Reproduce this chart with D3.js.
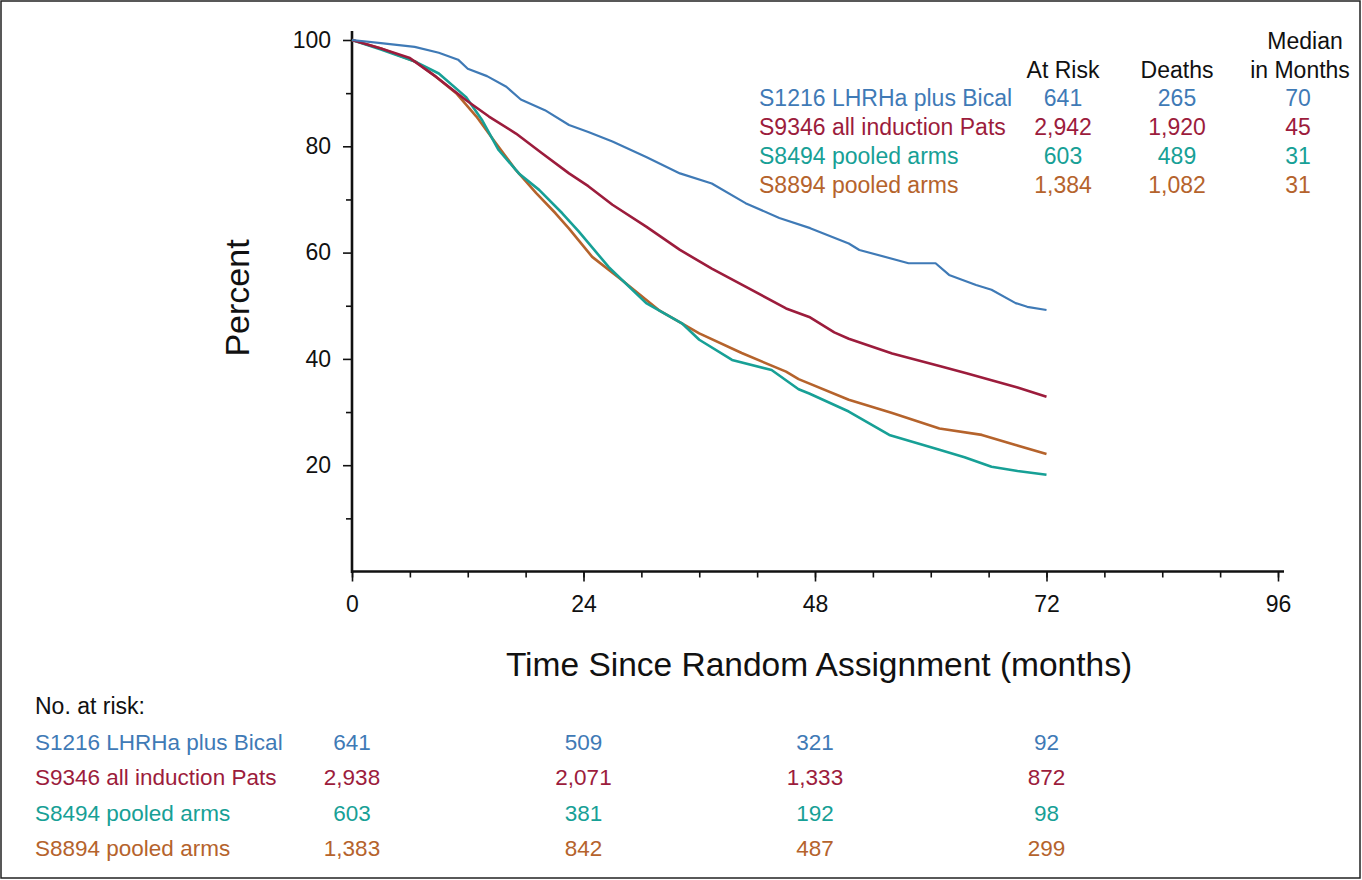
<!DOCTYPE html>
<html>
<head>
<meta charset="utf-8">
<script src="https://cdn.jsdelivr.net/npm/d3@7"></script>
<style>
  body { margin: 0; background: #fff; }
  text { font-family: "Liberation Sans", Arial, sans-serif; }
</style>
</head>
<body>
<script>
// Kurver (måned, procent)
const s1216 = [[0,100],[3,99.4],[6.5,98.7],[9,97.6],[11,96.3],[12,94.6],[14,93.2],[16,91.2],[17.5,88.8],[20,86.8],[22.5,84.0],[24.5,82.7],[27,80.9],[30.5,78.0],[34,74.9],[37.3,73.0],[40.8,69.3],[44.3,66.5],[47.5,64.6],[51.5,61.7],[52.6,60.5],[57.7,58.0],[60.5,58.0],[61.9,55.8],[64.7,53.9],[66.3,53.0],[68.8,50.5],[70,49.8],[72,49.2]];
const s9346 = [[0,100],[3,98.4],[6,96.6],[8.7,93.1],[11.8,88.7],[14.2,85.6],[17,82.4],[19.7,78.7],[22.5,74.9],[24.5,72.5],[27,69.0],[30.5,64.9],[34,60.5],[37.3,57.0],[40.8,53.6],[45,49.5],[47.4,47.9],[50,45.0],[51.5,43.8],[56,41.0],[61,38.6],[63.7,37.3],[66.3,36.0],[69,34.6],[72,32.9]];
const s8494 = [[0,100],[3,98.2],[6.6,95.9],[9,93.7],[11.8,89.3],[13.5,84.9],[15.2,79.3],[17.3,74.9],[19.4,71.8],[21.8,67.4],[23.5,64.0],[26.6,57.3],[30.5,50.5],[34.2,46.7],[36,43.6],[39.4,39.8],[43.5,37.9],[46.3,34.3],[47.4,33.5],[51.5,30.1],[55.7,25.7],[60.9,22.9],[63.5,21.5],[66.3,19.7],[69,18.9],[72,18.2]];
const s8894 = [[0,100],[3,98.4],[6.6,95.9],[8.7,93.1],[10.8,90.0],[12.9,85.6],[14.9,80.6],[17,75.5],[19.1,71.2],[21.1,67.4],[22.5,64.5],[24.9,59.2],[28,54.8],[31.8,49.2],[36,44.8],[40.4,41.1],[45,37.6],[46.3,36.2],[51.5,32.3],[56,29.8],[60.9,26.9],[65.3,25.7],[68.8,23.8],[72,22.1]];

const seriesNames = ["S1216 LHRHa plus Bical", "S9346 all induction Pats", "S8494 pooled arms", "S8894 pooled arms"];
const colors = ["#3f7ab6", "#9c1c3c", "#17a096", "#b5632c"];
const atRisk = ["641", "2,942", "603", "1,384"];
const deaths = ["265", "1,920", "489", "1,082"];
const medians = ["70", "45", "31", "31"];

const riskMonths = [0, 24, 48, 72];
const riskTable = [
  ["641", "509", "321", "92"],
  ["2,938", "2,071", "1,333", "872"],
  ["603", "381", "192", "98"],
  ["1,383", "842", "487", "299"]
];

const xTicks = [0, 24, 48, 72, 96];
const yTicks = [20, 40, 60, 80, 100];

const w = 1362;
const h = 880;

const svg = d3.select("body").append("svg").attr("width", w).attr("height", h);

// ramme rundt om figuren
svg.append("rect")
  .attr("x", 1).attr("y", 1).attr("width", w - 3).attr("height", h - 3)
  .attr("fill", "none").attr("stroke", "#222").attr("stroke-width", 1.5);

const xScale = d3.scaleLinear().domain([0, 96]).range([352, 1278]);
const yScale = d3.scaleLinear().domain([0, 100]).range([571.5, 40]);

// X-akse: små ticks hver 6. måned, store ved 24
const xMinor = d3.axisBottom(xScale).tickValues(d3.range(0, 97, 6)).tickSize(6).tickFormat("");
const xMajor = d3.axisBottom(xScale).tickValues(xTicks).tickSize(10).tickPadding(14);

const gxMinor = svg.append("g").attr("transform", "translate(0,571.5)").call(xMinor);
const gx = svg.append("g").attr("transform", "translate(0,571.5)").call(xMajor);
[gxMinor, gx].forEach(g => {
  g.select(".domain").remove();
  g.selectAll("line").attr("stroke", "#111").attr("stroke-width", 1.6);
});
gx.selectAll("text").attr("font-size", 23).attr("fill", "#111");

// Y-akse
const yMinor = d3.axisLeft(yScale).tickValues([10, 30, 50, 70, 90]).tickSize(6).tickFormat("");
const yMajor = d3.axisLeft(yScale).tickValues(yTicks).tickSize(9).tickPadding(12);
const gyMinor = svg.append("g").attr("transform", "translate(352,0)").call(yMinor);
const gy = svg.append("g").attr("transform", "translate(352,0)").call(yMajor);
[gyMinor, gy].forEach(g => {
  g.select(".domain").remove();
  g.selectAll("line").attr("stroke", "#111").attr("stroke-width", 1.6);
});
gy.selectAll("text").attr("font-size", 23).attr("fill", "#111");

// aksestreger
svg.append("line").attr("x1", 352).attr("x2", 352).attr("y1", 31).attr("y2", 573)
  .attr("stroke", "#111").attr("stroke-width", 2.6);
svg.append("line").attr("x1", 351).attr("x2", 1284).attr("y1", 571.5).attr("y2", 571.5)
  .attr("stroke", "#111").attr("stroke-width", 2.6);

// kurverne
const line = d3.line().x(d => xScale(d[0])).y(d => yScale(d[1]));
const curves = [s1216, s9346, s8494, s8894];
// tegnes bagfra så den blå ligger øverst
[3, 2, 1, 0].forEach(i => {
  svg.append("path")
    .datum(curves[i])
    .attr("d", line)
    .attr("fill", "none")
    .attr("stroke", colors[i])
    .attr("stroke-width", i === 0 ? 2.2 : 2.6)
    .attr("stroke-linejoin", "round");
});

// aksetitler
svg.append("text")
  .attr("transform", "translate(249,298) rotate(-90)")
  .attr("text-anchor", "middle")
  .attr("font-size", 34)
  .attr("fill", "#111")
  .text("Percent");

svg.append("text")
  .attr("x", 819).attr("y", 676)
  .attr("text-anchor", "middle")
  .attr("font-size", 33.5)
  .attr("fill", "#111")
  .text("Time Since Random Assignment (months)");

// legende øverst til højre
const legHead = [
  { x: 1063, y: 78, t: "At Risk" },
  { x: 1177, y: 78, t: "Deaths" },
  { x: 1305, y: 49, t: "Median" },
  { x: 1300, y: 78, t: "in Months" }
];
svg.selectAll(".leghead").data(legHead).enter().append("text")
  .attr("x", d => d.x).attr("y", d => d.y)
  .attr("text-anchor", "middle").attr("font-size", 23).attr("fill", "#111")
  .text(d => d.t);

const rowY = [106, 135, 164, 193];
seriesNames.forEach((name, i) => {
  const g = svg.append("g").attr("fill", colors[i]).attr("font-size", 23);
  g.append("text").attr("x", 759).attr("y", rowY[i]).text(name);
  g.append("text").attr("x", 1063).attr("y", rowY[i]).attr("text-anchor", "middle").text(atRisk[i]);
  g.append("text").attr("x", 1177).attr("y", rowY[i]).attr("text-anchor", "middle").text(deaths[i]);
  g.append("text").attr("x", 1298).attr("y", rowY[i]).attr("text-anchor", "middle").text(medians[i]);
});

// antal i risiko under figuren
svg.append("text").attr("x", 35).attr("y", 714).attr("font-size", 23).attr("fill", "#111").text("No. at risk:");
const tableY = [750, 785, 821, 856];
seriesNames.forEach((name, i) => {
  const g = svg.append("g").attr("fill", colors[i]).attr("font-size", 22.5);
  g.append("text").attr("x", 35).attr("y", tableY[i]).text(name);
  riskTable[i].forEach((v, j) => {
    g.append("text").attr("x", xScale(riskMonths[j])).attr("y", tableY[i])
      .attr("text-anchor", "middle").text(v);
  });
});
</script>
</body>
</html>
